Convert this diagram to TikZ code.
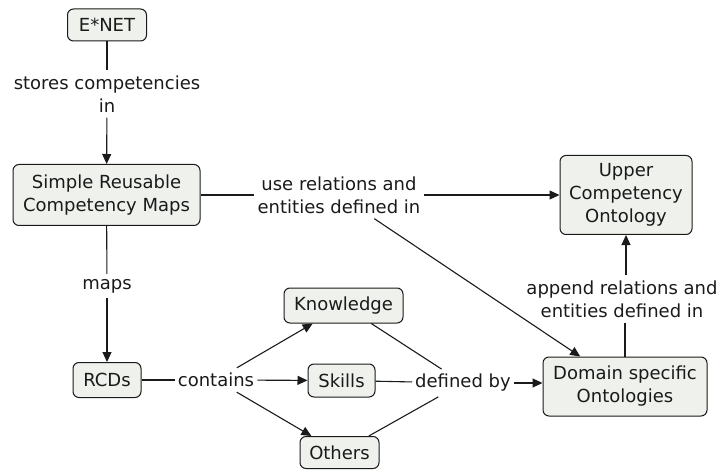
\documentclass[tikz,border=0pt]{standalone}
\usepackage{fontspec}
\setmainfont{DejaVu Sans}
\usetikzlibrary{arrows.meta,calc}
\definecolor{boxfill}{HTML}{EEF1EC}
\definecolor{linec}{HTML}{1A1A1A}
\begin{document}
\begin{tikzpicture}[x=1pt,y=-1pt,
  every node/.style={font=\fontsize{18}{23}\selectfont, text=linec},
  concept/.style={draw=linec, line width=1pt, rounded corners=6pt, fill=boxfill, align=center, inner sep=0pt},
  lbl/.style={align=center, inner xsep=3pt, inner ysep=5pt},
  conn/.style={draw=linec, line width=1.1pt},
  arr/.style={conn, -{Triangle[length=10pt,width=9pt]}}]
\useasboundingbox (0,0) rectangle (722,470);
% concepts
\node[concept, minimum width=79pt, minimum height=32pt] (enet) at (107,25) {E*NET};
\node[concept, minimum width=187pt, minimum height=61pt] (srcm) at (106.5,195) {Simple Reusable\\Competency Maps};
\node[concept, minimum width=68pt, minimum height=35pt] (rcd) at (107,380) {RCDs};
\node[concept, minimum width=119pt, minimum height=35pt] (know) at (343.5,305.5) {Knowledge};
\node[concept, minimum width=67pt, minimum height=33pt] (skill) at (341.5,380.5) {Skills};
\node[concept, minimum width=79pt, minimum height=32pt] (oth) at (339.5,452.5) {Others};
\node[concept, minimum width=164pt, minimum height=59pt] (dom) at (625,386.5) {Domain specific\\Ontologies};
\node[concept, minimum width=132pt, minimum height=79pt] (upper) at (626,195) {Upper\\Competency\\Ontology};
% labels
\node[lbl] (l1) at (107,94) {stores competencies\\in};
\node[lbl] (l2) at (107,286) {maps};
\node[lbl] (l3) at (216,380) {contains};
\node[lbl] (l4) at (463,383) {defined by};
\node[lbl] (l5) at (339,195) {use relations and\\entities defined in};
\node[lbl] (l6) at (622,299) {append relations and\\entities defined in};
% connectors
\draw[conn] (enet) -- (l1);
\draw[arr] (l1) -- (srcm);
\draw[conn] (srcm) -- (l2);
\draw[arr] (l2) -- (rcd);
\draw[conn] (rcd) -- (l3);
\draw[arr] (l3) -- (know);
\draw[arr] (l3) -- (skill);
\draw[arr] (l3) -- (oth);
\draw[conn] (know) -- (l4);
\draw[conn] (skill) -- (l4);
\draw[conn] (oth) -- (l4);
\draw[arr] (l4) -- (l4 -| dom.west);
\draw[conn] (srcm) -- (l5);
\draw[arr] (l5) -- (upper);
\draw[arr] (l5) -- (dom);
\draw[conn] (dom.north) -- (dom.north |- l6.south);
\draw[arr] (upper.south |- l6.north) -- (upper.south);
\end{tikzpicture}
\end{document}
